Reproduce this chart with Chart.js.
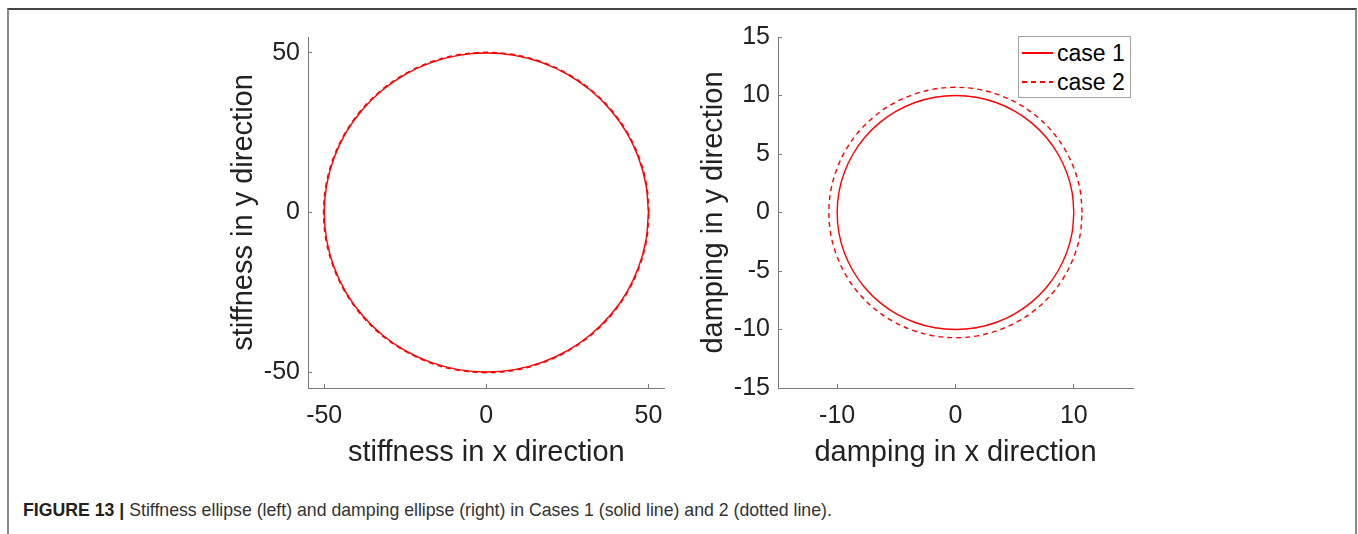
<!DOCTYPE html>
<html>
<head>
<meta charset="utf-8">
<script src="https://cdn.jsdelivr.net/npm/chart.js@4.4.0/dist/chart.umd.min.js"></script>
<style>
  body { margin: 0; background: #fff; width: 1358px; height: 534px; overflow: hidden; position: relative; font-family: "Liberation Sans", Arial, sans-serif; }
  .frame { position: absolute; left: 7px; top: 8px; width: 1350px; height: 540px; box-sizing: border-box;
           border-top: 2px solid #444; border-left: 2px solid #8a8a8a; border-right: 2px solid #8a8a8a; }
  canvas { position: absolute; }
  #left { left: 200px; top: 10px; }
  #right { left: 670px; top: 10px; }
  .legend { position: absolute; left: 1018px; top: 36px; width: 113px; height: 62px; box-sizing: border-box;
            border: 1px solid #a0a0a0; background: #fff; }
  .legend .ln { position: absolute; left: 3px; width: 31px; height: 2px; }
  .legend .solid { background: #ff0000; }
  .legend .dash { background: repeating-linear-gradient(to right, #ff0000 0 5px, transparent 5px 9px); }
  .legend .txt { position: absolute; left: 38px; font-size: 23px; line-height: 26px; color: #000; }
  .caption { position: absolute; left: 23px; top: 500px; font-family: "Liberation Sans Narrow", "Liberation Sans", Arial, sans-serif;
             font-size: 17.7px; line-height: 20px; color: #333; white-space: nowrap; }
  .caption b { color: #231f20; }
</style>
</head>
<body>
<div class="frame"></div>
<canvas id="left" width="480" height="470"></canvas>
<canvas id="right" width="480" height="470"></canvas>
<div class="legend">
  <div class="ln solid" style="top:15px;"></div>
  <div class="txt" style="top:3px;">case 1</div>
  <div class="ln dash" style="top:44px;"></div>
  <div class="txt" style="top:32px;">case 2</div>
</div>
<div class="caption"><b>FIGURE 13 |</b> Stiffness ellipse (left) and damping ellipse (right) in Cases 1 (solid line) and 2 (dotted line).</div>
<script>
// stiffness ellipse, case 1 and case 2 (points every 10 degrees)
const stiffX1 = [50, 49.24, 46.98, 43.30, 38.30, 32.14, 25.00, 17.10, 8.68, 0, -8.68, -17.10, -25.00, -32.14, -38.30, -43.30, -46.98, -49.24, -50, -49.24, -46.98, -43.30, -38.30, -32.14, -25.00, -17.10, -8.68, 0, 8.68, 17.10, 25.00, 32.14, 38.30, 43.30, 46.98, 49.24, 50];
const stiffY1 = [0, 8.68, 17.10, 25.00, 32.14, 38.30, 43.30, 46.98, 49.24, 50, 49.24, 46.98, 43.30, 38.30, 32.14, 25.00, 17.10, 8.68, 0, -8.68, -17.10, -25.00, -32.14, -38.30, -43.30, -46.98, -49.24, -50, -49.24, -46.98, -43.30, -38.30, -32.14, -25.00, -17.10, -8.68, 0];
const stiffX2 = [50.2, 49.44, 47.17, 43.47, 38.46, 32.27, 25.10, 17.17, 8.72, 0, -8.72, -17.17, -25.10, -32.27, -38.46, -43.47, -47.17, -49.44, -50.2, -49.44, -47.17, -43.47, -38.46, -32.27, -25.10, -17.17, -8.72, 0, 8.72, 17.17, 25.10, 32.27, 38.46, 43.47, 47.17, 49.44, 50.2];
const stiffY2 = [0, 8.72, 17.17, 25.10, 32.27, 38.46, 43.47, 47.17, 49.44, 50.2, 49.44, 47.17, 43.47, 38.46, 32.27, 25.10, 17.17, 8.72, 0, -8.72, -17.17, -25.10, -32.27, -38.46, -43.47, -47.17, -49.44, -50.2, -49.44, -47.17, -43.47, -38.46, -32.27, -25.10, -17.17, -8.72, 0];

// damping ellipse, case 1 and case 2
const dampX1 = [10, 9.85, 9.40, 8.66, 7.66, 6.43, 5.00, 3.42, 1.74, 0, -1.74, -3.42, -5.00, -6.43, -7.66, -8.66, -9.40, -9.85, -10, -9.85, -9.40, -8.66, -7.66, -6.43, -5.00, -3.42, -1.74, 0, 1.74, 3.42, 5.00, 6.43, 7.66, 8.66, 9.40, 9.85, 10];
const dampY1 = [0, 1.74, 3.42, 5.00, 6.43, 7.66, 8.66, 9.40, 9.85, 10, 9.85, 9.40, 8.66, 7.66, 6.43, 5.00, 3.42, 1.74, 0, -1.74, -3.42, -5.00, -6.43, -7.66, -8.66, -9.40, -9.85, -10, -9.85, -9.40, -8.66, -7.66, -6.43, -5.00, -3.42, -1.74, 0];
const dampX2 = [10.7, 10.54, 10.05, 9.27, 8.20, 6.88, 5.35, 3.66, 1.86, 0, -1.86, -3.66, -5.35, -6.88, -8.20, -9.27, -10.05, -10.54, -10.7, -10.54, -10.05, -9.27, -8.20, -6.88, -5.35, -3.66, -1.86, 0, 1.86, 3.66, 5.35, 6.88, 8.20, 9.27, 10.05, 10.54, 10.7];
const dampY2 = [0, 1.86, 3.66, 5.35, 6.88, 8.20, 9.27, 10.05, 10.54, 10.7, 10.54, 10.05, 9.27, 8.20, 6.88, 5.35, 3.66, 1.86, 0, -1.86, -3.66, -5.35, -6.88, -8.20, -9.27, -10.05, -10.54, -10.7, -10.54, -10.05, -9.27, -8.20, -6.88, -5.35, -3.66, -1.86, 0];

// tick labels
const stiffTicks = [-50, 0, 50];
const dampXTicks = [-10, 0, 10];
const dampYTicks = [-15, -10, -5, 0, 5, 10, 15];

Chart.defaults.font.family = '"Liberation Sans", Arial, sans-serif';
Chart.defaults.color = '#222';

function pts(xs, ys) {
  return xs.map((x, i) => ({ x: x, y: ys[i] }));
}

function axis(min, max, tickVals, title, isY) {
  return {
    type: 'linear',
    min: min,
    max: max,
    afterBuildTicks: s => { s.ticks = tickVals.map(v => ({ value: v })); },
    afterFit: s => { if (isY) s.width = 108; else s.height = 92; },
    grid: { drawOnChartArea: false, drawTicks: true, tickLength: -4, color: '#7a7a7a', lineWidth: 1 },
    border: { display: true, color: '#7a7a7a', width: 1 },
    ticks: { autoSkip: false, maxRotation: 0, padding: isY ? 12 : 17, font: { size: 25 }, color: '#222' },
    title: {
      display: true, text: title, color: '#222', font: { size: 29 },
      padding: isY ? { top: 27, bottom: 0 } : { top: 0, bottom: 9.6 }
    }
  };
}

function makeChart(id, d1, d2, xr, yr, xt, yt, xTitle, yTitle, padRight) {
  new Chart(document.getElementById(id), {
    type: 'scatter',
    data: {
      datasets: [
        { label: 'case 1', data: d1, showLine: true, tension: 0.35, pointRadius: 0, borderColor: '#ff0000', borderWidth: 1.4 },
        { label: 'case 2', data: d2, showLine: true, tension: 0.35, pointRadius: 0, borderColor: '#ff0000', borderWidth: 1.4, borderDash: [5, 4] }
      ]
    },
    options: {
      responsive: false,
      animation: false,
      devicePixelRatio: 1,
      layout: { padding: { top: 24, right: padRight, left: 0, bottom: 0 } },
      plugins: { legend: { display: false }, tooltip: { enabled: false } },
      scales: {
        x: axis(xr[0], xr[1], xt, xTitle, false),
        y: axis(yr[0], yr[1], yt, yTitle, true)
      }
    }
  });
}

makeChart('left', pts(stiffX1, stiffY1), pts(stiffX2, stiffY2), [-55, 55], [-55, 55],
  stiffTicks, stiffTicks, 'stiffness in x direction', 'stiffness in y direction', 15);
makeChart('right', pts(dampX1, dampY1), pts(dampX2, dampY2), [-15, 15], [-15, 15],
  dampXTicks, dampYTicks, 'damping in x direction', 'damping in y direction', 17);
</script>
</body>
</html>
